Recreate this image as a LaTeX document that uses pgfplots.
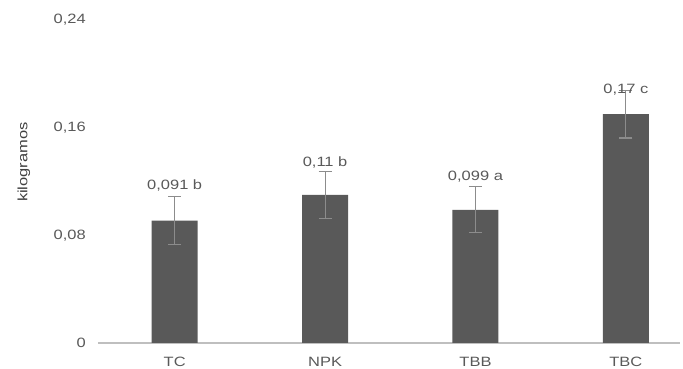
\documentclass[border=0pt]{standalone}
\usepackage{pgfplots}
\pgfplotsset{compat=1.18}
\usepackage{fontspec}
\setmainfont{Liberation Sans}[FakeStretch=1.22]
\definecolor{barc}{HTML}{595959}
\definecolor{txt}{HTML}{595959}
\definecolor{ylc}{HTML}{404040}
\definecolor{errc}{HTML}{8C8C8C}
\definecolor{axc}{HTML}{BFBFBF}
\newcommand\lab{\fontsize{13.5}{15}\selectfont}
\begin{document}
\begin{tikzpicture}
\begin{axis}[
  scale only axis, width=582pt, height=323pt,
  xmin=-0.51, xmax=3.36, ymin=0, ymax=0.24,
  axis x line*=bottom, axis y line*=left,
  y axis line style={draw=none},
  x axis line style={draw=axc, line width=1.2pt, -},
  xtick={0,1,2,3}, xticklabels={TC,NPK,TBB,TBC},
  ytick={0,0.08,0.16,0.24}, yticklabels={0,{0,08},{0,16},{0,24}},
  major tick length=0pt,
  tick style={draw=none},
  xticklabel style={font=\lab, text=txt, inner sep=0pt, anchor=north, yshift=-14pt},
  yticklabel style={font=\lab, text=txt, inner sep=0pt, anchor=east, xshift=-12pt},
  clip=false,
]
\addplot[ybar, bar width=46pt, fill=barc, draw=none,
  error bars/.cd, y dir=both, y explicit,
  error mark=-,
  error bar style={errc, line width=1.1pt},
  error mark options={rotate=90, errc, line width=1.1pt, mark size=6.5pt}]
  table[x=x, y=y, y error=e] {
x y e
0 0.091 0.018
1 0.11 0.0175
2 0.099 0.017
3 0.17 0.0177
};
\addplot[draw=none, mark=none, nodes near coords, point meta=explicit symbolic,
  every node near coord/.append style={font=\lab, text=txt, anchor=center, inner sep=0pt}]
  table[x=x, y=y, meta=l] {
x y l
0 0.1167 {0,091 b}
1 0.1340 {0,11 b}
2 0.1236 {0,099 a}
3 0.1880 {0,17 c}
};
\coordinate (bl) at (rel axis cs:0,0);
\coordinate (tr) at (rel axis cs:1,1);
\coordinate (yl) at (rel axis cs:0,0.56);
\end{axis}
\node[rotate=90, font=\lab, text=ylc] at ([xshift=-74pt]yl) {kilogramos};
\pgfresetboundingbox
\path ([xshift=-98pt,yshift=-26pt]bl) rectangle ([xshift=3pt,yshift=20pt]tr);
\end{tikzpicture}
\end{document}
